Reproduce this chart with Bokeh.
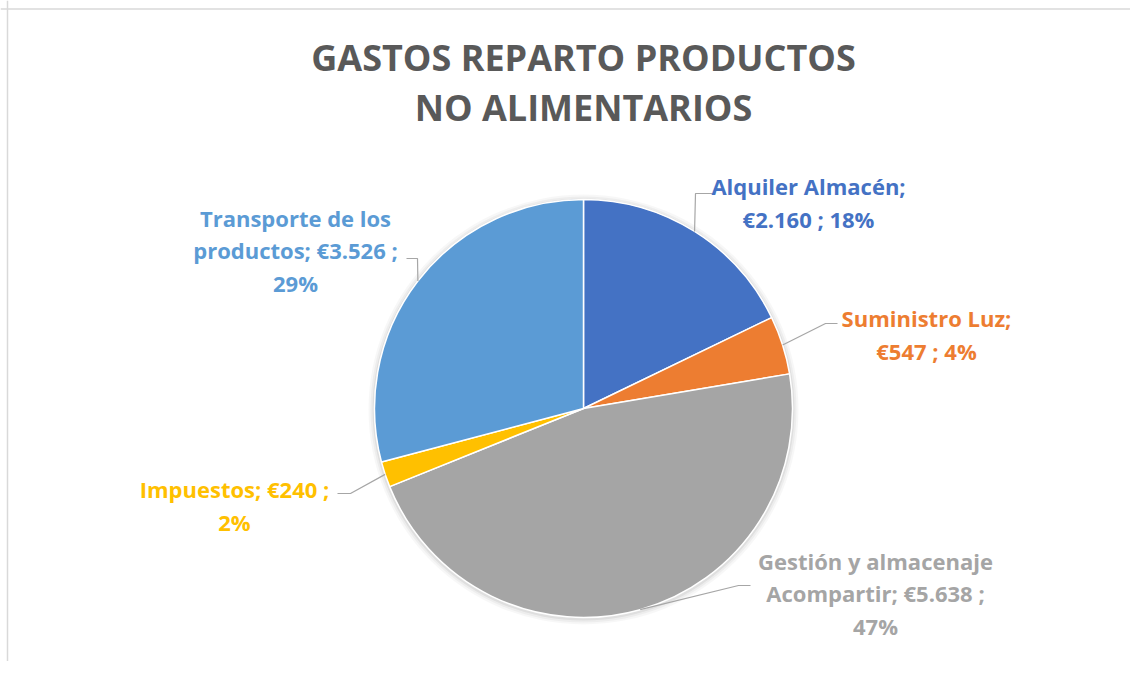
import math
import textwrap
from bokeh.plotting import figure
from bokeh.models import Range1d, ColumnDataSource, Span
from bokeh.core.properties import value
from bokeh.embed import file_html
from bokeh.resources import INLINE

# ---- data ----
categories = ["Alquiler Almacén", "Suministro Luz", "Gestión y almacenaje Acompartir",
              "Impuestos", "Transporte de los productos"]
values = [2160, 547, 5638, 240, 3526]
pct_labels = [18, 4, 47, 2, 29]
colors = ["#4472C4", "#ED7D31", "#A5A5A5", "#FFC000", "#5B9BD5"]
title_lines = ["GASTOS REPARTO PRODUCTOS", "NO ALIMENTARIOS"]

# ---- layout (image pixel coords) ----
W, H = 1130, 661
IMG_H = 677
def Y(img_y):
    return IMG_H - img_y

cx, cy, r = 583, Y(408), 209
wrap_widths = [18, 16, 21, 18, 19]
label_xy = [(808, 202), (926, 334), (875, 593), (234, 505), (295, 250)]
elbow_xy = [(695, 193), (825, 323), (738, 585), (350, 493), (417, 258)]
end_x = [713, 837, 750, 337, 406]

p = figure(width=W, height=H, output_backend="svg", toolbar_location=None,
           x_range=Range1d(0, W), y_range=Range1d(Y(H), Y(0)),
           min_border=0, outline_line_color=None)
p.axis.visible = False
p.grid.visible = False
p.background_fill_color = "white"
p.border_fill_color = "white"

# chart border (top & left visible in reference)
p.add_layout(Span(location=Y(8.5), dimension="width", line_color="#D9D9D9", line_width=1.5))
p.add_layout(Span(location=7, dimension="height", line_color="#D9D9D9", line_width=1.5))

total = sum(values)
cum = [0]
for v in values:
    cum.append(cum[-1] + v / total)
starts = [math.pi / 2 - 2 * math.pi * cum[i + 1] for i in range(len(values))]
ends = [math.pi / 2 - 2 * math.pi * cum[i] for i in range(len(values))]
mids = [(s + e) / 2 for s, e in zip(starts, ends)]

# soft shadow
for k, a in [(6, 0.03), (4, 0.04), (2, 0.06)]:
    p.circle(x=cx, y=cy - 1, radius=r + k, fill_color="black", fill_alpha=a, line_color=None)

src = ColumnDataSource(dict(start=starts, end=ends, color=colors))
p.wedge(x=cx, y=cy, radius=r, start_angle="start", end_angle="end",
        fill_color="color", line_color="white", line_width=1.5, source=src)

# leader lines
for i in range(len(values)):
    sx = cx + r * math.cos(mids[i])
    sy = cy + r * math.sin(mids[i])
    ex, ey = elbow_xy[i]
    p.line([sx, ex, end_x[i]], [sy, Y(ey), Y(ey)], line_color="#A6A6A6", line_width=1.2)

# data labels
texts = []
for name, v, pc, w in zip(categories, values, pct_labels, wrap_widths):
    euros = "€" + f"{v:,}".replace(",", ".")
    texts.append(textwrap.fill(f"{name}; {euros} ; {pc}%", width=w))
p.text(x=[xy[0] for xy in label_xy], y=[Y(xy[1]) for xy in label_xy], text=texts,
       text_color=colors, text_font=value("Open Sans"), text_font_style="bold",
       text_font_size="22px", text_align="center", text_baseline="middle",
       text_line_height=1.08)

# title
p.text(x=[583], y=[Y(82)], text=["\n".join(title_lines)], text_color="#595959",
       text_font=value("Open Sans"), text_font_style="bold", text_font_size="36px",
       text_align="center", text_baseline="middle", text_line_height=1.02)

open("out.html", "w").write(file_html(p, INLINE))
